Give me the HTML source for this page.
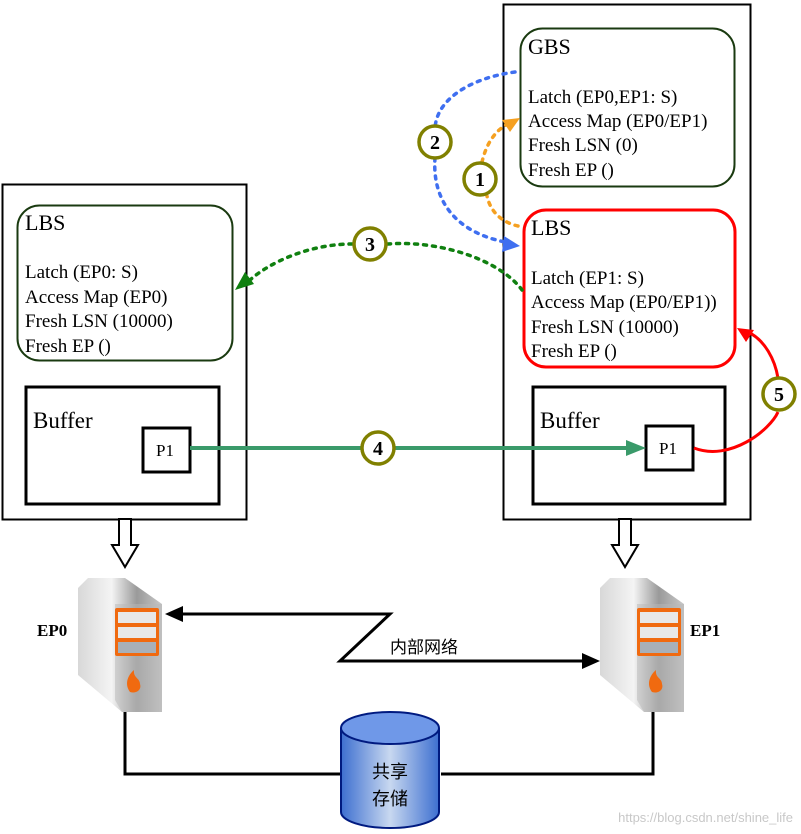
<!DOCTYPE html>
<html><head><meta charset="utf-8"><style>
html,body{margin:0;padding:0;background:#fff}
svg{display:block}
text{font-family:"Liberation Serif",serif;fill:#000}
</style></head><body>
<svg width="801" height="834" viewBox="0 0 801 834" xmlns="http://www.w3.org/2000/svg">
<defs>
<linearGradient id="srv" x1="0" x2="1"><stop offset="0" stop-color="#d8d8d8"/><stop offset="0.4" stop-color="#f4f4f4"/><stop offset="0.7" stop-color="#9a9a9a"/><stop offset="1" stop-color="#c8c8c8"/></linearGradient>
<linearGradient id="cyl" x1="0" x2="1"><stop offset="0" stop-color="#3d6fd0"/><stop offset="0.5" stop-color="#c8d8f0"/><stop offset="1" stop-color="#3d6fd0"/></linearGradient>
</defs>
<rect x="2.5" y="184.5" width="244" height="335" fill="none" stroke="#000" stroke-width="2"/>
<rect x="503.5" y="4.5" width="247" height="515" fill="none" stroke="#000" stroke-width="2"/>
<rect x="17.5" y="205.5" width="215" height="155" rx="22" fill="#fff" stroke="#1a3a10" stroke-width="2"/>
<text x="25" y="230" font-size="22">LBS</text>
<g font-size="19">
<text x="25" y="278">Latch (EP0: S)</text>
<text x="25" y="303">Access Map (EP0)</text>
<text x="25" y="327">Fresh LSN (10000)</text>
<text x="25" y="352">Fresh EP ()</text>
</g>
<rect x="520.5" y="28.5" width="214" height="158" rx="22" fill="#fff" stroke="#1a3a10" stroke-width="2"/>
<text x="528" y="54" font-size="22">GBS</text>
<g font-size="19">
<text x="528" y="103">Latch (EP0,EP1: S)</text>
<text x="528" y="127">Access Map (EP0/EP1)</text>
<text x="528" y="151">Fresh LSN (0)</text>
<text x="528" y="176">Fresh EP ()</text>
</g>
<rect x="524" y="210" width="211" height="157" rx="22" fill="#fff" stroke="#ff0000" stroke-width="3"/>
<text x="531" y="235" font-size="22">LBS</text>
<g font-size="19">
<text x="531" y="284">Latch (EP1: S)</text>
<text x="531" y="308">Access Map (EP0/EP1))</text>
<text x="531" y="333">Fresh LSN (10000)</text>
<text x="531" y="357">Fresh EP ()</text>
</g>
<rect x="26" y="387" width="193" height="117" fill="#fff" stroke="#000" stroke-width="3"/>
<text x="33" y="428" font-size="23">Buffer</text>
<rect x="143" y="428" width="47" height="44" fill="#fff" stroke="#000" stroke-width="3"/>
<text x="156" y="456" font-size="17">P1</text>
<rect x="533" y="387" width="192" height="117" fill="#fff" stroke="#000" stroke-width="3"/>
<text x="540" y="428" font-size="23">Buffer</text>
<rect x="646" y="426" width="47" height="44" fill="#fff" stroke="#000" stroke-width="3"/>
<text x="659" y="454" font-size="17">P1</text>
<path d="M515 72 C470 78 435 100 435 130" fill="none" stroke="#3f6ff0" stroke-width="3.5" stroke-dasharray="3 6" stroke-linecap="round"/>
<path d="M435 158 C432 200 455 232 505 242" fill="none" stroke="#3f6ff0" stroke-width="3.5" stroke-dasharray="3 6" stroke-linecap="round"/>
<polygon points="520,246 504,236 502,252" fill="#3f6ff0"/>
<path d="M518 226 C500 222 490 210 487 196" fill="none" stroke="#f5a020" stroke-width="3.5" stroke-dasharray="3 6" stroke-linecap="round"/>
<path d="M482 162 C486 145 494 132 506 125" fill="none" stroke="#f5a020" stroke-width="3.5" stroke-dasharray="3 6" stroke-linecap="round"/>
<polygon points="520,118 502,120 510,132" fill="#f5a020"/>
<path d="M522 290 C500 260 440 240 388 244" fill="none" stroke="#108010" stroke-width="3.5" stroke-dasharray="3 6" stroke-linecap="round"/>
<path d="M352 244 C310 244 270 262 250 280" fill="none" stroke="#108010" stroke-width="3.5" stroke-dasharray="3 6" stroke-linecap="round"/>
<polygon points="235,290 245,272 254,284" fill="#108010"/>
<line x1="190" y1="448" x2="628" y2="448" stroke="#3a9a6a" stroke-width="4"/>
<polygon points="646,448 626,440 626,456" fill="#3a9a6a"/>
<path d="M694 448 C730 462 770 430 778 412" fill="none" stroke="#ff0000" stroke-width="3"/>
<path d="M778 378 C775 360 765 340 748 332" fill="none" stroke="#ff0000" stroke-width="3"/>
<polygon points="737,328 754,330 746,342" fill="#ff0000"/>
<g stroke="#808000" stroke-width="3.5" fill="#fff">
<circle cx="480" cy="179" r="16"/><circle cx="435" cy="142" r="16"/><circle cx="370" cy="244" r="16"/><circle cx="378" cy="448" r="16"/><circle cx="779" cy="394" r="16"/>
</g>
<g font-size="20" font-weight="bold" text-anchor="middle">
<text x="480" y="186">1</text><text x="435" y="149">2</text><text x="370" y="251">3</text><text x="378" y="455">4</text><text x="779" y="401">5</text>
</g>
<polygon points="119,519 131,519 131,545 138,545 125,567 112,545 119,545" fill="#fff" stroke="#000" stroke-width="2"/>
<polygon points="619,519 631,519 631,545 638,545 625,567 612,545 619,545" fill="#fff" stroke="#000" stroke-width="2"/>
<g id="s0">
<polygon points="78,588 88,578 125,578 162,604 162,712 122,712 78,675" fill="url(#srv)"/>
<polygon points="115,604 162,604 162,712 122,712 115,700" fill="#b8b8b8" opacity="0.5"/>
<rect x="115" y="608" width="44" height="48" fill="#f06a10" rx="2"/>
<rect x="118" y="612" width="38" height="11" fill="#e8e8e8"/><rect x="118" y="627" width="38" height="11" fill="#e8e8e8"/><rect x="118" y="642" width="38" height="11" fill="#a8b0b8"/>
<path d="M130 692 C124 684 128 675 134 670 C133 678 140 678 140 684 C142 690 136 694 130 692Z" fill="#f06a10"/>
</g>
<use href="#s0" transform="translate(522,0)"/>
<text x="37" y="636" font-size="17" font-weight="bold">EP0</text>
<text x="690" y="636" font-size="17" font-weight="bold">EP1</text>
<polyline points="180,614 390,614 340,661 584,661" fill="none" stroke="#000" stroke-width="3"/>
<polygon points="165,614 183,606 183,622" fill="#000"/>
<polygon points="600,661 582,653 582,669" fill="#000"/>
<text x="390" y="653" font-size="17" style='font-family:"Liberation Sans","Noto Sans CJK SC",sans-serif'>内部网络</text>
<polyline points="125,712 125,774 340,774" fill="none" stroke="#000" stroke-width="3"/>
<polyline points="653,712 653,774 441,774" fill="none" stroke="#000" stroke-width="3"/>
<path d="M341 728 L341 812 A49 16 0 0 0 439 812 L439 728" fill="url(#cyl)" stroke="#001a80" stroke-width="2"/>
<ellipse cx="390" cy="728" rx="49" ry="16" fill="#6f98e8" stroke="#001a80" stroke-width="2"/>
<text x="390" y="778" font-size="18" text-anchor="middle" style='font-family:"Liberation Sans","Noto Sans CJK SC",sans-serif'>共享</text>
<text x="390" y="805" font-size="18" text-anchor="middle" style='font-family:"Liberation Sans","Noto Sans CJK SC",sans-serif'>存储</text>
<text x="793" y="822" font-size="13" text-anchor="end" style='font-family:"Liberation Sans",sans-serif;fill:#c8c8c8'>https://blog.csdn.net/shine_life</text>
</svg>
</body></html>
